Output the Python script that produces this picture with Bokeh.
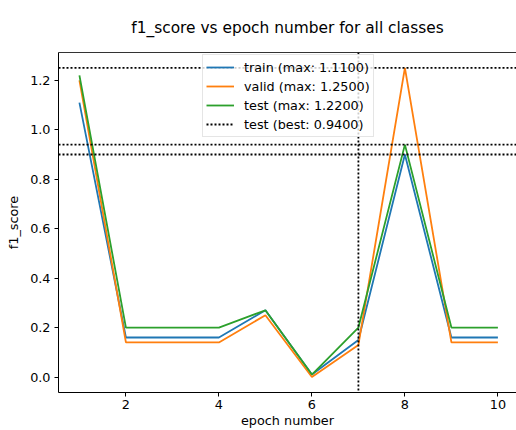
from bokeh.plotting import figure
from bokeh.models import Span, Legend, LegendItem, LinearAxis, FixedTicker, NumeralTickFormatter, Range1d, ColumnDataSource
from bokeh.embed import file_html
from bokeh.resources import INLINE

epochs = [1, 2, 3, 4, 5, 6, 7, 8, 9, 10]
train = [1.11, 0.16, 0.16, 0.16, 0.27, 0.01, 0.15, 0.90, 0.16, 0.16]
valid = [1.20, 0.14, 0.14, 0.14, 0.25, 0.00, 0.13, 1.25, 0.14, 0.14]
test = [1.22, 0.20, 0.20, 0.20, 0.27, 0.01, 0.20, 0.94, 0.20, 0.20]
series_names = ["train", "valid", "test"]
series_colors = ["#1f77b4", "#ff7f0e", "#2ca02c"]
hlines = [1.25, 0.94, 0.90]
best_epoch = 7
best_value = 0.94
x_ticks = [2, 4, 6, 8, 10]
y_ticks = [0.0, 0.2, 0.4, 0.6, 0.8, 1.0, 1.2]

FONT = "DejaVu Sans"

p = figure(width=516, height=430, output_backend="svg", toolbar_location=None,
           x_range=Range1d(0.55, 10.40), y_range=Range1d(-0.0625, 1.3125),
           min_border_left=58, min_border_right=0, min_border_top=51, min_border_bottom=37,
           title="f1_score vs epoch number for all classes")
p.outline_line_color = None
p.grid.visible = False

p.title.text_font = FONT
p.title.text_font_style = "normal"
p.title.text_font_size = "15.4px"
p.title.align = "center"
p.title.text_color = "black"
p.title.standoff = 32

for ax in [p.xaxis[0], p.yaxis[0]]:
    ax.axis_line_color = "black"
    ax.axis_line_width = 1
    ax.major_tick_line_color = "black"
    ax.major_tick_out = 4
    ax.major_tick_in = 0
    ax.minor_tick_line_color = None
    ax.major_label_text_font = FONT
    ax.major_label_text_font_size = "12.8px"
    ax.major_label_text_color = "black"
    ax.axis_label_text_font = FONT
    ax.axis_label_text_font_size = "12.8px"
    ax.axis_label_text_font_style = "normal"
    ax.axis_label_text_color = "black"

p.xaxis[0].ticker = FixedTicker(ticks=x_ticks)
p.yaxis[0].ticker = FixedTicker(ticks=y_ticks)
p.yaxis[0].formatter = NumeralTickFormatter(format="0.0")
p.xaxis[0].axis_label = "epoch number"
p.yaxis[0].axis_label = "f1_score"
p.xaxis[0].major_label_standoff = 3
p.yaxis[0].major_label_standoff = 4
p.xaxis[0].axis_label_standoff = 1
p.yaxis[0].axis_label_standoff = 6

# top spine (no right spine: the reference crops it off)
top = LinearAxis(major_tick_line_color=None, minor_tick_line_color=None,
                 major_tick_out=0, minor_tick_out=0, major_tick_in=0, major_label_standoff=0,
                 major_label_text_font_size="0px", axis_line_color="#333333", axis_line_width=1,
                 ticker=FixedTicker(ticks=[]))
p.add_layout(top, "above")

items = []
data = [train, valid, test]
for name, color, vals in zip(series_names, series_colors, data):
    src = ColumnDataSource(dict(x=epochs, y=vals))
    r = p.line("x", "y", source=src, line_color=color, line_width=1.8)
    items.append(LegendItem(label=f"{name} (max: {max(vals):.4f})", renderers=[r]))

for h in hlines:
    p.add_layout(Span(location=h, dimension="width", line_color="black", line_width=1.8, line_dash="2 2"))
p.add_layout(Span(location=best_epoch, dimension="height", line_color="black", line_width=1.8, line_dash="2 2"))

# single-point line: draws nothing on the plot, only provides the legend glyph
dummy = p.line(x=[best_epoch], y=[best_value], line_color="black", line_width=1.8, line_dash="2 2")
items.append(LegendItem(label=f"test (best: {best_value:.4f})", renderers=[dummy]))

legend = Legend(items=items, location=(144, 255), orientation="vertical",
                label_text_font=FONT, label_text_font_size="12.8px", label_text_color="black",
                glyph_width=28, glyph_height=18, label_height=18, label_standoff=10,
                spacing=1, padding=3, margin=0,
                border_line_color="#cccccc", border_line_width=1,
                background_fill_color="white", background_fill_alpha=0.8)
p.add_layout(legend, "center")

open("out.html", "w").write(file_html(p, INLINE))
